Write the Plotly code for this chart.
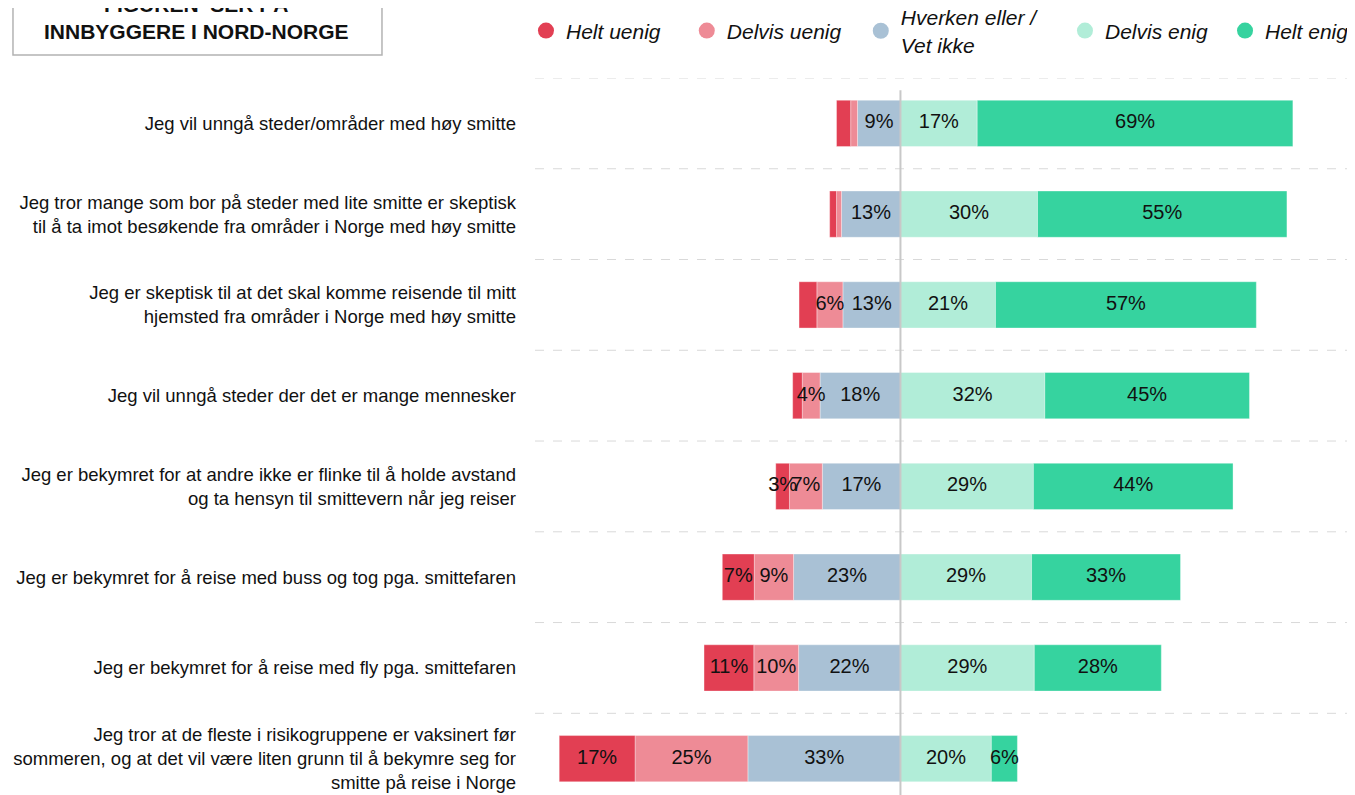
import plotly.graph_objects as go

# Statements (top to bottom)
statements = [
    "Jeg vil unngå steder/områder med høy smitte",
    "Jeg tror mange som bor på steder med lite smitte er skeptisk<br>til å ta imot besøkende fra områder i Norge med høy smitte",
    "Jeg er skeptisk til at det skal komme reisende til mitt<br>hjemsted fra områder i Norge med høy smitte",
    "Jeg vil unngå steder der det er mange mennesker",
    "Jeg er bekymret for at andre ikke er flinke til å holde avstand<br>og ta hensyn til smittevern når jeg reiser",
    "Jeg er bekymret for å reise med buss og tog pga. smittefaren",
    "Jeg er bekymret for å reise med fly pga. smittefaren",
    "Jeg tror at de fleste i risikogruppene er vaksinert før<br>sommeren, og at det vil være liten grunn til å bekymre seg for<br>smitte på reise i Norge",
]

# Shares in percent
helt_uenig = [3.1, 1.5, 3.9, 2.1, 3.0, 7.0, 10.9, 16.6]
delvis_uenig = [1.5, 1.1, 5.7, 3.9, 7.2, 8.6, 9.8, 24.7]
hverken = [9.4, 12.9, 12.6, 17.6, 17.1, 23.4, 22.3, 33.4]
delvis_enig = [16.8, 30.0, 20.8, 31.6, 29.1, 28.7, 29.3, 19.9]
helt_enig = [69.1, 54.6, 57.1, 44.8, 43.7, 32.6, 27.8, 5.7]

# rows where the original chart shows no value label
hidden_labels = {
    "Helt uenig": [0, 1, 2, 3],
    "Delvis uenig": [0, 1],
}

NEUTRAL = "Hverken eller /<br>Vet ikke"
COLORS = {
    "Helt uenig": "#E23F53",
    "Delvis uenig": "#EE8B96",
    NEUTRAL: "#A9C1D5",
    "Delvis enig": "#B1EDD8",
    "Helt enig": "#36D39F",
}

FONT = "Liberation Sans, Arial, sans-serif"

# page is shifted 8px by the html body margin, so sizes are reduced to fit
W, H = 1347, 787

fig = go.Figure()

# negative side stacked outward from zero: neutral, delvis uenig, helt uenig
series = [
    (NEUTRAL, hverken, -1),
    ("Delvis uenig", delvis_uenig, -1),
    ("Helt uenig", helt_uenig, -1),
    ("Delvis enig", delvis_enig, 1),
    ("Helt enig", helt_enig, 1),
]
neg_base = [0.0] * len(statements)
pos_base = [0.0] * len(statements)
text_x, text_y, text_s = [], [], []
for name, vals, sign in series:
    fig.add_trace(go.Bar(
        y=statements,
        x=[sign * v for v in vals],
        orientation="h",
        name=name,
        width=0.51,
        marker=dict(color=COLORS[name], line=dict(color="rgba(255,255,255,0.35)", width=1)),
        showlegend=False,
        hoverinfo="skip",
    ))
    base = neg_base if sign < 0 else pos_base
    hide = hidden_labels.get(name, [])
    for i, v in enumerate(vals):
        if i not in hide:
            text_x.append(base[i] + sign * v / 2)
            text_y.append(statements[i])
            text_s.append(f"{round(v)}%")
        base[i] += sign * v

# value labels on top of all bars
fig.add_trace(go.Scatter(
    x=text_x, y=text_y, text=text_s, mode="text",
    textfont=dict(family=FONT, size=20, color="#111111"),
    showlegend=False, hoverinfo="skip",
))

# legend entries with round markers, each placed like the original
legend_names = ["Helt uenig", "Delvis uenig", NEUTRAL, "Delvis enig", "Helt enig"]
legend_x = [-0.011, 0.1851, 0.3973, 0.6463, 0.8415]
legends = {}
for k, (name, lx) in enumerate(zip(legend_names, legend_x)):
    key = "legend" if k == 0 else f"legend{k + 1}"
    fig.add_trace(go.Scatter(
        x=[None], y=[None], mode="markers", name=name, legend=key,
        marker=dict(symbol="circle", size=16, color=COLORS[name]),
    ))
    legends[key] = dict(
        x=lx, xanchor="left", y=1.0656, yanchor="middle", orientation="h",
        font=dict(family=FONT, size=21, color="#111111", style="italic"),
        itemsizing="trace", bgcolor="rgba(0,0,0,0)",
    )

# dashed separators between rows
shapes = []
for i in range(len(statements)):
    shapes.append(dict(type="line", xref="paper", x0=0, x1=1, yref="y", y0=i - 0.5, y1=i - 0.5,
                       line=dict(color="#d9d9d9", width=1, dash="dash"), layer="below"))
# zero line
shapes.append(dict(type="line", xref="x", x0=0, x1=0, yref="paper", y0=0, y1=0.983,
                   line=dict(color="#c8c8c8", width=2), layer="above"))
# title box
shapes.append(dict(type="rect", xref="paper", yref="paper", x0=-0.6366, x1=-0.1866, y0=1.0321, y1=1.12,
                   line=dict(color="#b3b3b3", width=1.5), fillcolor="rgba(0,0,0,0)"))

fig.update_layout(
    width=W, height=H,
    margin=dict(l=527, r=0, t=70, b=0, autoexpand=False),
    barmode="relative",
    plot_bgcolor="white",
    paper_bgcolor="white",
    font=dict(family=FONT, color="#111111"),
    shapes=shapes,
    xaxis=dict(range=[-80, 99.5], showgrid=False, zeroline=False, showticklabels=False,
               showline=False, fixedrange=True),
    yaxis=dict(range=[7.4, -0.5], showgrid=False, zeroline=False, showline=False,
               ticks="", ticklabelstandoff=18, tickfont=dict(family=FONT, size=18.5, color="#111111")),
    annotations=[dict(
        xref="paper", yref="paper", x=-0.4122, y=1.083, xanchor="center", yanchor="middle",
        text="<b>FIGUREN\u00a0 SER PÅ<br>INNBYGGERE I NORD-NORGE</b>",
        showarrow=False, font=dict(family=FONT, size=21, color="#111111"),
    )],
    **legends,
)

fig.write_html("out.html")
